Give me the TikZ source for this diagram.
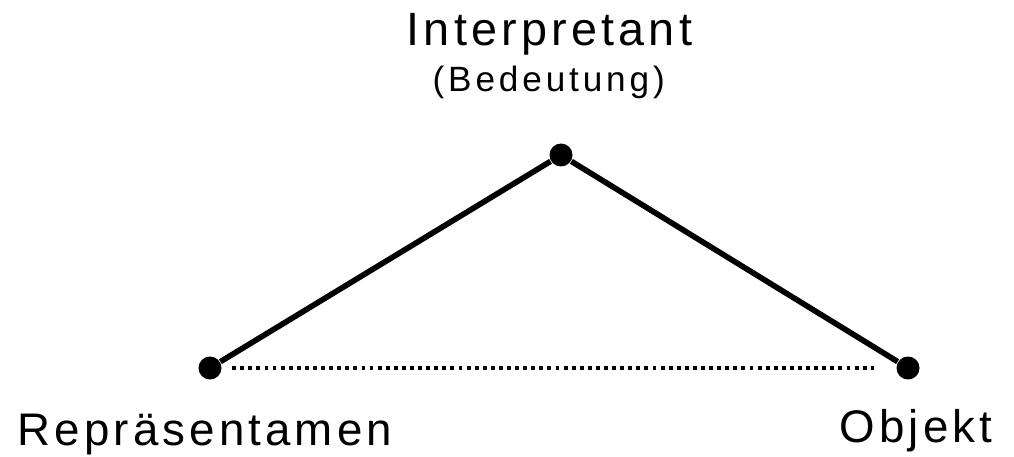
\documentclass[tikz,border=0pt]{standalone}
\usepackage{fontspec}
\setmainfont[LetterSpace=11]{Liberation Sans}
\newfontfamily\bigtermfont[LetterSpace=9]{Liberation Sans}
\usepackage{xcolor}
\usetikzlibrary{positioning}

\begin{document}
\begin{tikzpicture}[
    corner/.style={
      circle,
      fill=black,
      inner sep=0pt,
      minimum size=0.23cm
    },
    label-top/.style={
      anchor=base west,
      inner sep=0pt,
      font=\bigtermfont\fontsize{13.3pt}{15pt}\selectfont
    },
    label-small/.style={
      anchor=base west,
      inner sep=0pt,
      font=\fontsize{10pt}{12pt}\selectfont
    },
    label-base/.style={
      anchor=base west,
      inner sep=0pt,
      font=\bigtermfont\fontsize{13pt}{15pt}\selectfont
    },
    side/.style={
      line width=1.6pt
    },
    base-link/.style={
      line width=1pt,
      dash pattern=on 1.1pt off 1.2pt,
      shorten <=0.1cm,
      shorten >=0.22cm
    }
  ]
    \useasboundingbox (0,0) rectangle (10.14,4.56);

    % ---- Corners of the triangle ----
    \node[corner] (interp) at (5.61, 3.01) {};
    \node[corner] (repr)   at (2.10, 0.88) {};
    \node[corner] (obj)    at (9.08, 0.88) {};

    % ---- Labels ----
    \node[label-top]   (interp-label) at (4.06, 4.10) {Interpretant};
    \node[label-small] (interp-sub)   at (4.32, 3.64) {(Bedeutung)};
    \node[label-base]  (repr-label)   at (0.17, 0.11) {Repräsentamen};
    \node[label-base]  (obj-label)    at (8.39, 0.14) {Objekt};

    % ---- Sides ----
    \draw[side] (repr) -- (interp);
    \draw[side] (interp) -- (obj);
    \draw[base-link] (repr) -- (obj);
  \end{tikzpicture}
\end{document}
